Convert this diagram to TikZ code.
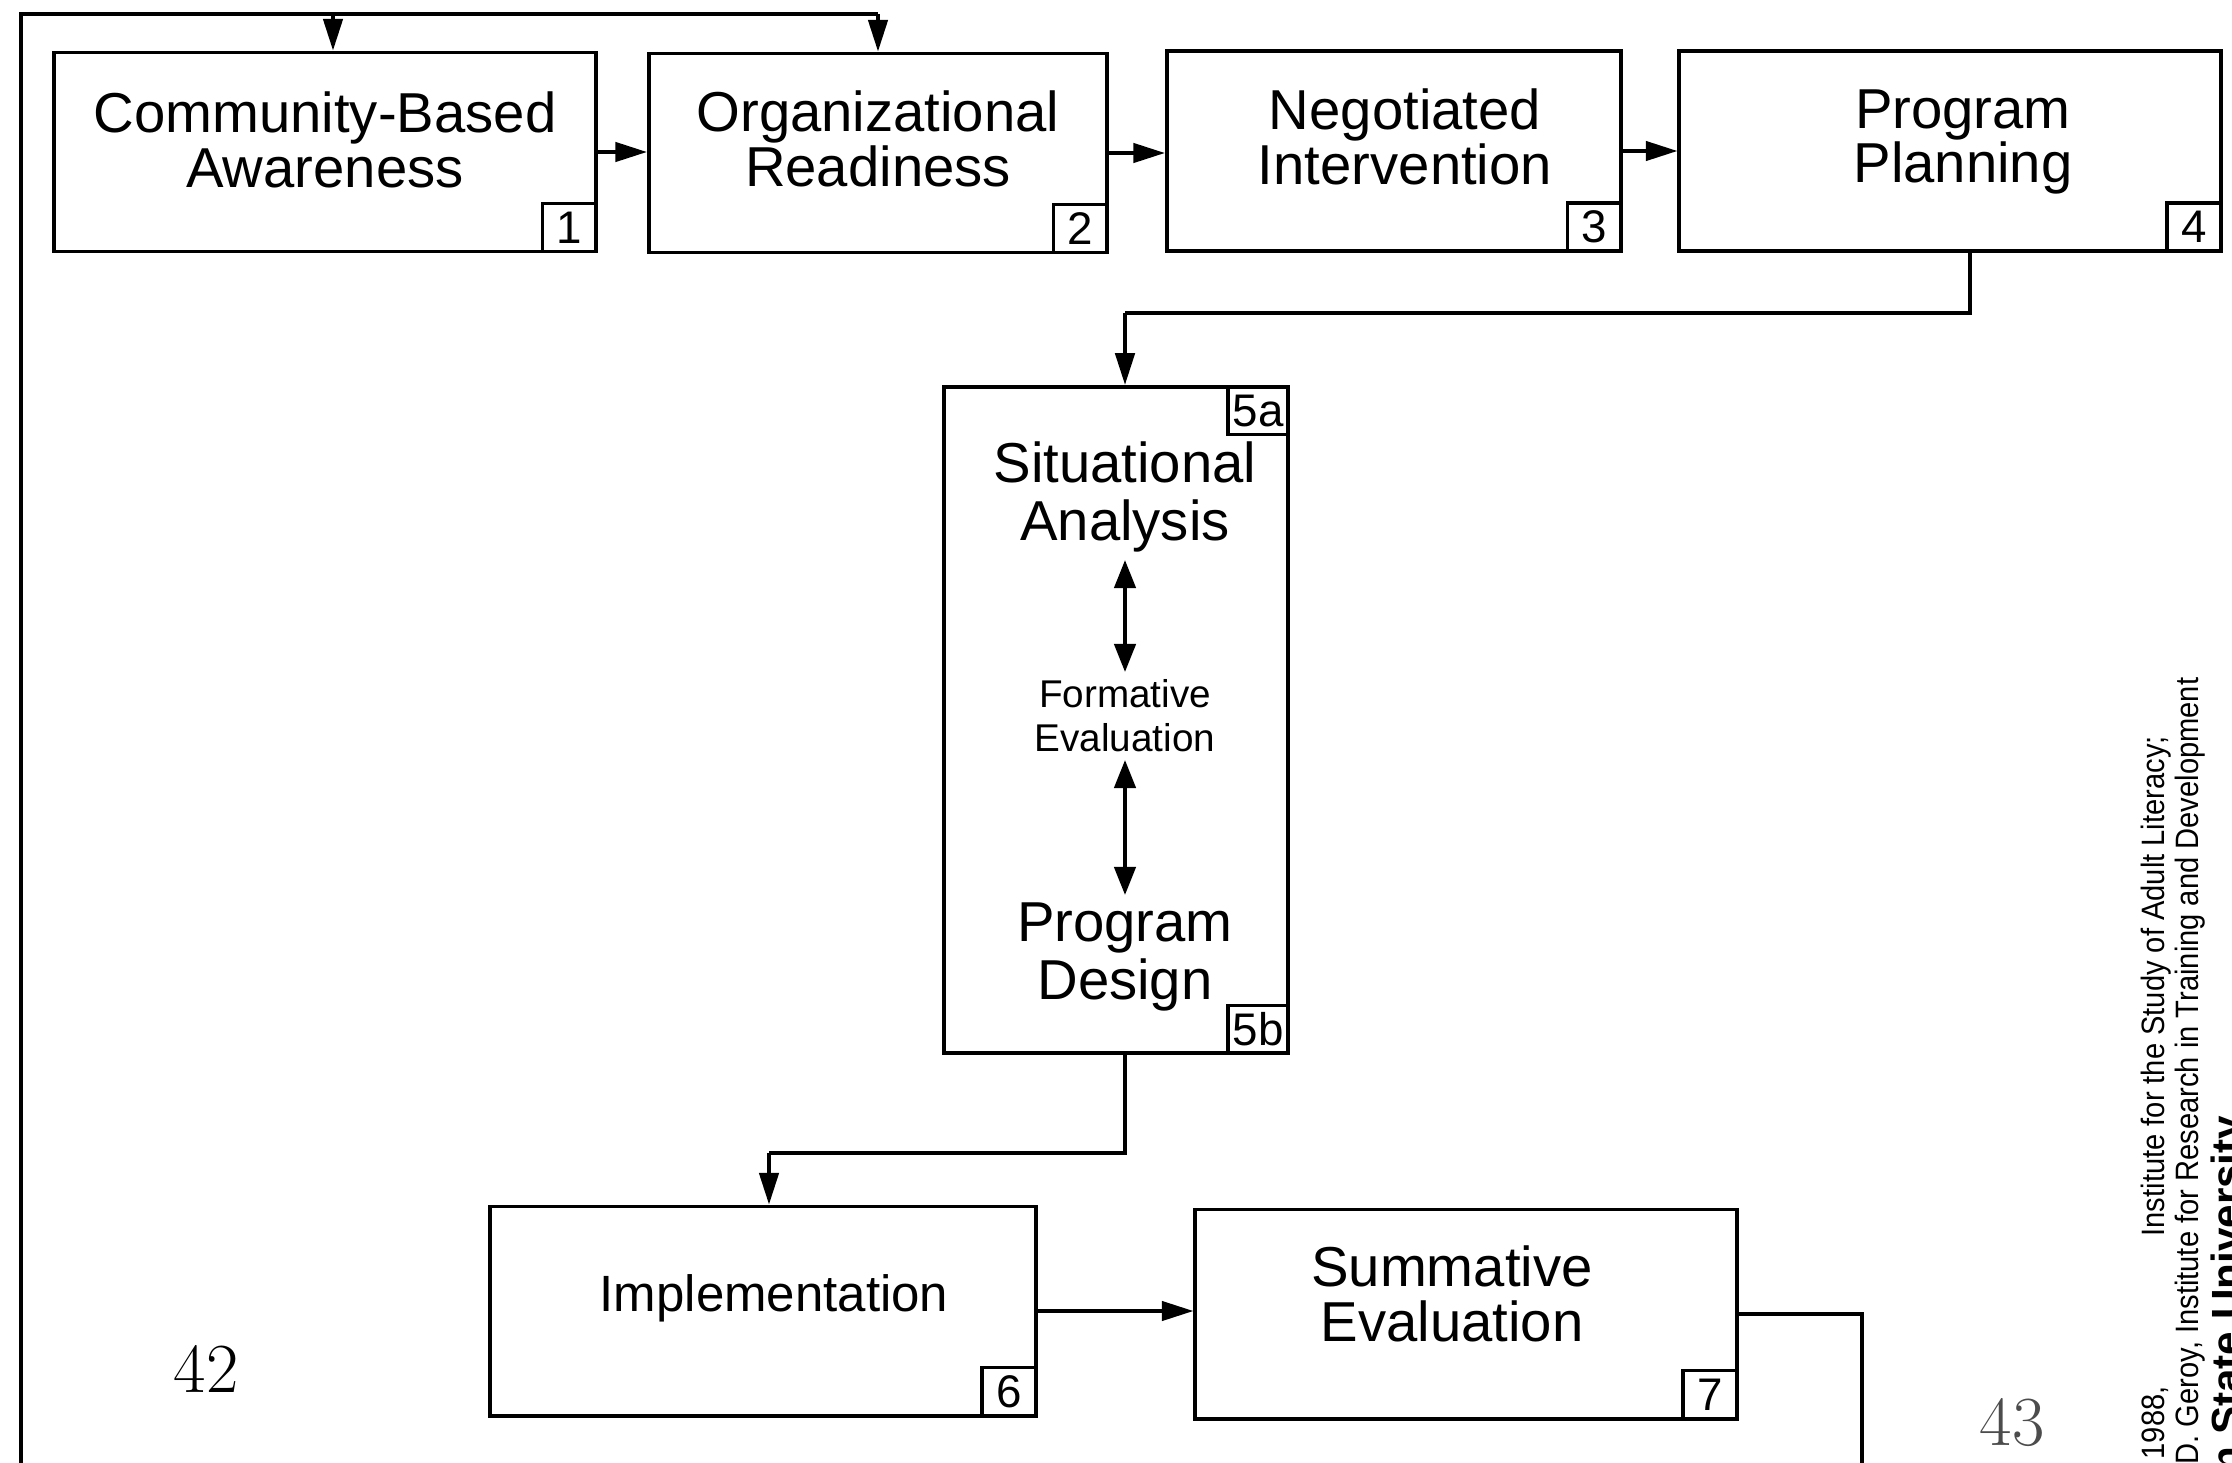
\documentclass[tikz,border=0pt]{standalone}
\usepackage{fontspec}
\newfontfamily\hv{Liberation Sans}
\newfontfamily\hvc[FakeStretch=0.9]{Liberation Sans}
\usetikzlibrary{arrows.meta}
\begin{document}
\begin{tikzpicture}[x=0.01cm,y=-0.01cm,
  box/.style={draw,line width=1.1pt,inner sep=0pt},
  tag/.style={draw,line width=1pt,inner sep=0pt,minimum width=0.54cm,minimum height=0.48cm,font=\hv\fontsize{13}{13}\selectfont},
  lbl/.style={align=center,inner sep=0pt,font=\hv\fontsize{16}{15.5}\selectfont},
  slbl/.style={align=center,inner sep=2pt,font=\hv\fontsize{11}{12.5}\selectfont},
  conn/.style={line width=1pt},
  arr/.style={line width=1pt,-{Triangle[length=9pt,width=5.5pt]}},
  dbl/.style={line width=1.2pt,{Triangle[length=8pt,width=6pt]}-{Triangle[length=8pt,width=6pt]}},
  rot/.style={rotate=90,inner sep=0pt,font=\hvc\fontsize{9.2}{9.5}\selectfont}]
\useasboundingbox (0,0) rectangle (2232,1463);
\fill[white] (0,0) rectangle (2232,1463);

% boxes
\node[box,minimum width=5.42cm,minimum height=1.99cm] (b1) at (325,152) {};
\node[box,minimum width=4.58cm,minimum height=1.99cm] (b2) at (878,153) {};
\node[box,minimum width=4.54cm,minimum height=2.00cm] (b3) at (1394,151) {};
\node[box,minimum width=5.41cm,minimum height=2.00cm] (b4) at (1950,151) {};
\node[box,minimum width=3.44cm,minimum height=6.66cm] (b5) at (1116,720) {};
\node[box,minimum width=5.45cm,minimum height=2.09cm] (b6) at (763,1311) {};
\node[box,minimum width=5.41cm,minimum height=2.09cm] (b7) at (1466,1314) {};

% tags
\node[tag,anchor=south east] (t1) at (b1.south east) {1};
\node[tag,anchor=south east] (t2) at (b2.south east) {2};
\node[tag,anchor=south east] (t3) at (b3.south east) {3};
\node[tag,anchor=south east] (t4) at (b4.south east) {4};
\node[tag,anchor=north east,minimum width=0.6cm] (t5a) at (b5.north east) {5a};
\node[tag,anchor=south east,minimum width=0.6cm] (t5b) at (b5.south east) {5b};
\node[tag,anchor=south east] (t6) at (b6.south east) {6};
\node[tag,anchor=south east] (t7) at (b7.south east) {7};

% labels
\node[lbl] (l1) at (325,140) {Community-Based\\Awareness};
\node[lbl] (l2) at (878,139) {Organizational\\Readiness};
\node[lbl] (l3) at (1405,137) {Negotiated\\Intervention};
\node[lbl] (l4) at (1963,142) {Program\\Planning};
\node[lbl,inner sep=2pt,font=\hv\fontsize{16}{16.5}\selectfont] (sa) at (1125,497) {Situational\\Analysis};
\node[slbl] (fe) at (1125,716) {Formative\\Evaluation};
\node[lbl,inner sep=2pt,font=\hv\fontsize{16}{16.5}\selectfont] (pd) at (1125,957) {Program\\Design};
\node[lbl,font=\hv\fontsize{14.5}{15}\selectfont] (l6) at (774,1298) {Implementation};
\node[lbl] (l7) at (1452,1294) {Summative\\Evaluation};

% loop at top/left
\coordinate (lbot) at (21,1463);
\coordinate (ltop) at (21,14);
\coordinate (j1) at (333,14);
\draw[conn] (lbot) -- (ltop) -- (ltop -| b2.north);
\draw[arr] (j1) -- (j1 |- b1.north);
\draw[arr] (ltop -| b2.north) -- (b2.north);

% top chain
\draw[arr] (b1.east) -- (b1.east -| b2.west);
\draw[arr] (b2.east) -- (b2.east -| b3.west);
\draw[arr] (b3.east) -- (b3.east -| b4.west);

% 4 -> 5
\coordinate (c4) at (1970,313);
\coordinate (c5) at (1125,313);
\draw[conn] (c4 |- b4.south) -- (c4) -- (c5);
\draw[arr] (c5) -- (c5 |- b5.north);

% inside 5
\draw[dbl] (sa.south) -- (fe.north);
\draw[dbl] (fe.south) -- (pd.north);

% 5 -> 6
\coordinate (c6a) at (1125,1153);
\coordinate (c6b) at (769,1153);
\draw[conn] (c6a |- b5.south) -- (c6a) -- (c6b);
\draw[arr] (c6b) -- (c6b |- b6.north);

% 6 -> 7
\draw[arr] (b6.east) -- (b6.east -| b7.west);

% 7 out
\coordinate (c7) at (1862,1463);
\draw[conn] (b7.east) -| (c7);

% page numbers
\node[font=\fontsize{20}{20}\selectfont] (p42) at (206,1369) {42};
\node[font=\fontsize{20}{20}\selectfont,text=black!70] (p43) at (2012,1423) {43};

% rotated credit
\node[rot,anchor=west] (yr) at (2155,1460) {1988,};
\node[rot,anchor=west] (cr1) at (2156,1237) {Institute for the Study of Adult Literacy;};
\node[rot,anchor=east] (cr2) at (2190,677) {D. Geroy, Institute for Research in Training and Development};
\node[rot,anchor=east,font=\hv\bfseries\fontsize{12}{12}\selectfont] (cr3) at (2231,1115) {Penn State University};
\end{tikzpicture}
\end{document}
